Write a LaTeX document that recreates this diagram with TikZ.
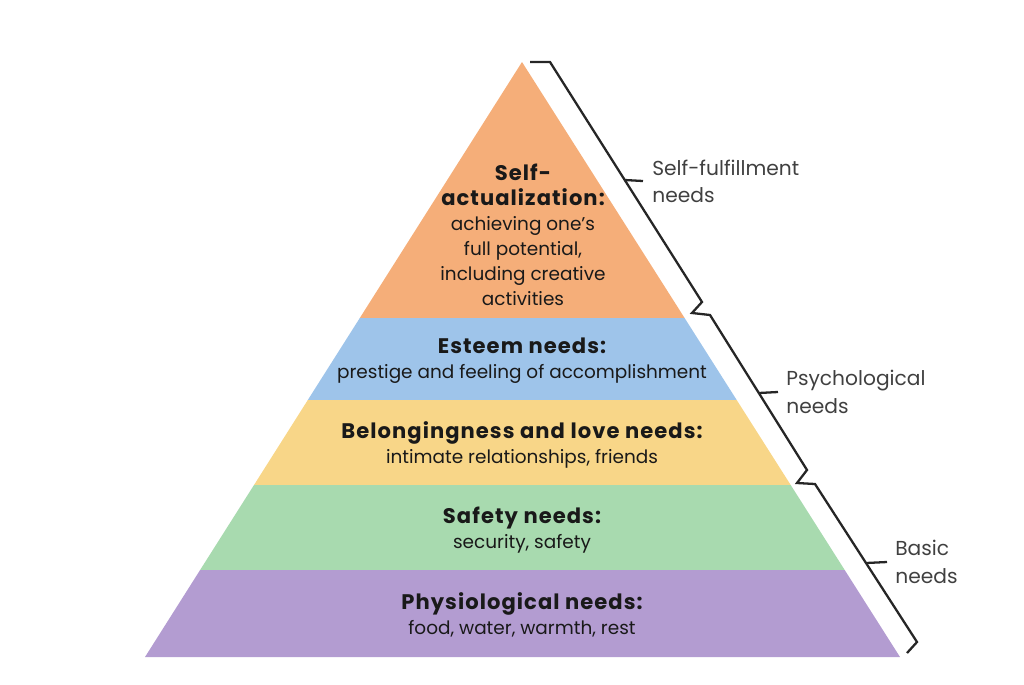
\documentclass[tikz,border=0pt]{standalone}
\usepackage{fontspec}
\setmainfont{Poppins}
\usepackage{xcolor}
\definecolor{selfcol}{HTML}{F5AE79}
\definecolor{esteemcol}{HTML}{9EC4EA}
\definecolor{lovecol}{HTML}{F8D688}
\definecolor{safecol}{HTML}{A8DAAF}
\definecolor{physcol}{HTML}{B39CD1}
\newcommand{\hd}[1]{{\fontsize{12}{14.2}\selectfont\bfseries\addfontfeatures{LetterSpace=5}#1}}

\begin{document}
\begin{tikzpicture}[x=0.02cm, y=-0.02cm,
  % Node Styles
  tnode/.style={align=center, text=black!90, inner sep=0pt, font=\fontsize{10.5}{14.2}\selectfont},
  gnode/.style={align=left, anchor=west, text=black!75, inner sep=0pt, font=\fontsize{11.5}{15.5}\selectfont},
  % Line Styles
  bracket/.style={line width=1.3pt, black!85, line join=miter},
  tick/.style={line width=1.3pt, black!85}
]
\useasboundingbox (0,0) rectangle (1024,684);

% Diagram for: hierarchy of needs

% pyramid layers
\fill[selfcol]   (522,62)    -- (684.6,318) -- (359.8,318) -- cycle;
\fill[esteemcol] (359.8,318) -- (684.6,318) -- (736.7,400) -- (307.8,400) -- cycle;
\fill[lovecol]   (307.8,400) -- (736.7,400) -- (790.7,485) -- (254.0,485) -- cycle;
\fill[safecol]   (254.0,485) -- (790.7,485) -- (844.7,570) -- (200.1,570) -- cycle;
\fill[physcol]   (200.1,570) -- (844.7,570) -- (900,657)   -- (145,657)   -- cycle;

\node[tnode] (L_5) at (523,235) {\hd{Self-}\\\hd{actualization:}\\achieving one's\\full potential,\\including creative\\activities};
\node[tnode] (L_4) at (522,361) {\hd{Esteem needs:}\\prestige and feeling of accomplishment};
\node[tnode] (L_3) at (522,445) {\hd{Belongingness and love needs:}\\intimate relationships, friends};
\node[tnode] (L_2) at (522,530) {\hd{Safety needs:}\\security, safety};
\node[tnode] (L_1) at (522,615) {\hd{Physiological needs:}\\food, water, warmth, rest};

% brackets
\coordinate (B_1) at (624.7,180);
\coordinate (B_2) at (758.8,393);
\coordinate (B_3) at (866.0,563);
\draw[bracket] (530,62) -- (550,62) -- (702,302) -- (692,313) -- (710,315) -- (807,470) -- (797,483) -- (815,484) -- (917,642) -- (907,653);

\node[gnode] (G_1) at (652,181) {Self-fulfillment\\needs};
\node[gnode] (G_2) at (786,392) {Psychological\\needs};
\node[gnode] (G_3) at (895,562) {Basic\\needs};

\draw[tick] (B_1) -- ([xshift=-0.18cm]G_1.west);
\draw[tick] (B_2) -- ([xshift=-0.16cm]G_2.west);
\draw[tick] (B_3) -- ([xshift=-0.16cm]G_3.west);

\end{tikzpicture}
\end{document}
